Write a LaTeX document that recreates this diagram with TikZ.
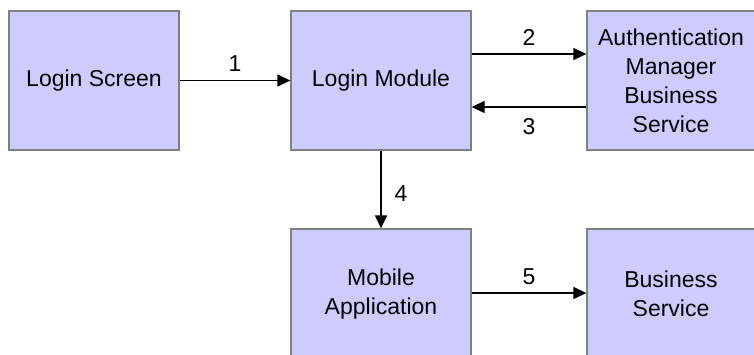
\documentclass[tikz,border=0pt]{standalone}
\usepackage{fontspec}
\setmainfont{Liberation Sans}
\usetikzlibrary{arrows.meta}
\definecolor{boxfill}{RGB}{204,204,255}
\definecolor{boxdraw}{RGB}{128,128,128}
\tikzset{
  blk/.style={draw=boxdraw, fill=boxfill, line width=1.3pt, inner sep=0pt, align=center,
    font=\fontsize{23}{29}\selectfont},
  conn/.style={line width=1.3pt, -{Triangle[length=13pt,width=12pt]}},
  lbl/.style={font=\fontsize{23}{27}\selectfont, inner sep=2pt}
}
\begin{document}
\begin{tikzpicture}[x=1pt,y=-1pt]
\useasboundingbox (0,0) rectangle (754,354);
\begin{scope}
\clip (0,0) rectangle (754,354);
\node[blk, minimum width=170pt, minimum height=139pt] (ls) at (94,80.5) {Login Screen};
\node[blk, minimum width=180pt, minimum height=139pt] (lm) at (381,80.5) {Login Module};
\node[blk, minimum width=168pt, minimum height=139pt] (am) at (671,80.5) {Authentication\\Manager\\Business\\Service};
\node[blk, minimum width=180pt, minimum height=130pt] (ma) at (381,294) {Mobile\\Application};
\node[blk, minimum width=168pt, minimum height=130pt] (bs) at (671,294) {Business\\Service};
\end{scope}
\draw[conn] (ls.east) -- node[lbl, above=6pt] {1} (lm.west);
\draw[conn] ([yshift=26.5pt]lm.east) -- node[lbl, above=6pt] {2} ([yshift=26.5pt]am.west);
\draw[conn] ([yshift=-26.5pt]am.west) -- node[lbl, below=9pt] {3} ([yshift=-26.5pt]lm.east);
\draw[conn] (lm.south) -- node[lbl, right=11pt, yshift=-4pt] {4} (ma.north);
\draw[conn] ([yshift=1pt]ma.east) -- node[lbl, above=6pt] {5} ([yshift=1pt]bs.west);
\end{tikzpicture}
\end{document}
